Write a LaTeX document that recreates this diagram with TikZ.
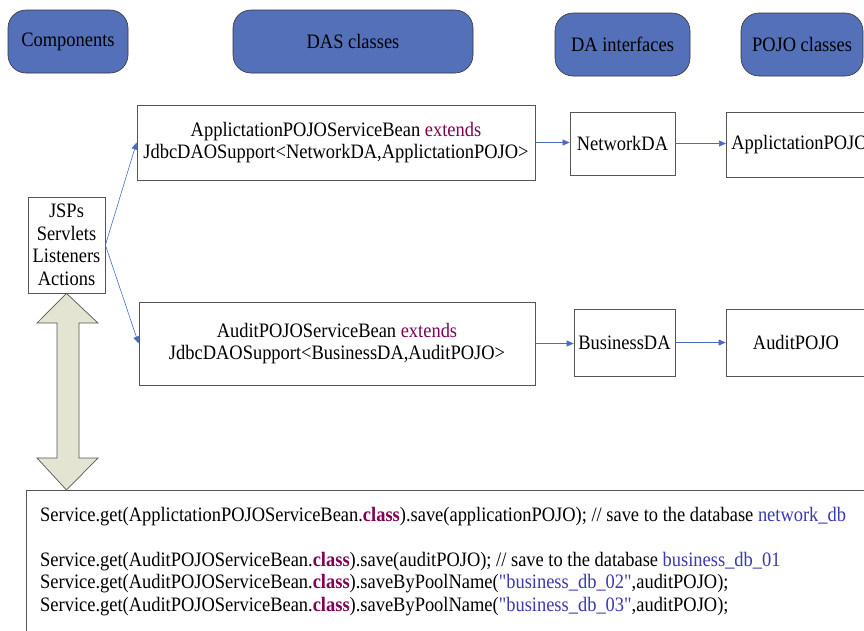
\documentclass[tikz,border=0pt]{standalone}
\usepackage{fontspec}
\setmainfont{Liberation Serif}[FakeStretch=0.9]
\newfontfamily\plainfont{Liberation Serif}[FakeStretch=0.9]
\usetikzlibrary{arrows.meta}
\definecolor{hdrblue}{HTML}{5470B8}
\definecolor{linkblue}{HTML}{4A6CC0}
\definecolor{kwpurple}{HTML}{7F0055}
\definecolor{strblue}{HTML}{3A3AB0}
\definecolor{arrfill}{HTML}{E3E5D2}
\definecolor{edgegray}{HTML}{555555}
\newcommand{\qq}{{\plainfont\symbol{34}}}
\tikzset{
  hdr/.style={draw=black!80, fill=hdrblue, rounded corners=18pt, line width=0.6pt,
    font=\fontsize{20.5}{22.5}\selectfont, inner sep=0pt},
  box/.style={draw=edgegray, line width=0.8pt, fill=white, align=center,
    font=\fontsize{20.5}{22.5}\selectfont, inner sep=0pt},
  conn/.style={draw=linkblue, line width=0.6pt, -{Triangle[length=7pt,width=6pt]}},
}
\begin{document}
\begin{tikzpicture}[x=1pt,y=-1pt]
\useasboundingbox (0,0) rectangle (864,630);
% headers
\node[hdr, minimum width=120pt, minimum height=63pt] (hcomp) at (68,41.5) {Components};
\node[hdr, minimum width=240pt, minimum height=63pt] (hdas) at (353,41.5) {DAS classes};
\node[hdr, minimum width=135pt, minimum height=63pt] (hda) at (622.5,44.5) {DA interfaces};
\node[hdr, minimum width=122pt, minimum height=63pt] (hpojo) at (802,44.5) {POJO classes};
% row 1
\node[box, minimum width=398pt, minimum height=75pt] (appbean) at (336,142.5)
  {ApplictationPOJOServiceBean \textcolor{kwpurple}{extends}\\JdbcDAOSupport<NetworkDA,ApplictationPOJO>};
\node[box, minimum width=105pt, minimum height=63pt] (netda) at (622.5,143.5) {NetworkDA};
\node[box, minimum width=160pt, minimum height=65pt, anchor=west, text width=150pt, align=left, inner xsep=5pt] (apppojo) at (726,144.5) {ApplictationPOJO};
% row 2
\node[box, minimum width=396pt, minimum height=83pt] (auditbean) at (337,343.5)
  {AuditPOJOServiceBean \textcolor{kwpurple}{extends}\\JdbcDAOSupport<BusinessDA,AuditPOJO>};
\node[box, minimum width=101pt, minimum height=67pt] (busda) at (624.5,342.5) {BusinessDA};
\node[box, minimum width=140pt, minimum height=67pt] (auditpojo) at (796,342.5) {AuditPOJO};
% components
\node[box, minimum width=77pt, minimum height=96pt] (jsp) at (66.5,245)
  {JSPs\\Servlets\\Listeners\\Actions};
% code box
\node[box, anchor=north west, minimum width=860pt, minimum height=160pt] (code) at (26,490) {};
\node[anchor=north west, align=left, inner sep=0pt, font=\fontsize{20.5}{22.5}\selectfont] (codetext) at (40,507)
  {Service.get(ApplictationPOJOServiceBean.\textcolor{kwpurple}{\bfseries class}).save(applicationPOJO); // save to the database \textcolor{strblue}{network\_db}\\[22.5pt]
   Service.get(AuditPOJOServiceBean.\textcolor{kwpurple}{\bfseries class}).save(auditPOJO); // save to the database \textcolor{strblue}{business\_db\_01}\\
   Service.get(AuditPOJOServiceBean.\textcolor{kwpurple}{\bfseries class}).saveByPoolName(\textcolor{strblue}{\qq business\_db\_02\qq},auditPOJO);\\
   Service.get(AuditPOJOServiceBean.\textcolor{kwpurple}{\bfseries class}).saveByPoolName(\textcolor{strblue}{\qq business\_db\_03\qq},auditPOJO);};
% double arrow
\draw[draw=edgegray, fill=arrfill, line width=0.7pt]
  (jsp.south) -- (98,323) -- (79,323) -- (79,458) -- (98,458) -- (code.north -| jsp.south)
  -- (37,458) -- (57,458) -- (57,323) -- (37,323) -- cycle;
% connectors
\draw[conn] (jsp.east) -- (appbean.west);
\draw[conn] (jsp.east) -- (auditbean.west);
\draw[conn] (appbean.east) -- (appbean.east -| netda.west);
\draw[conn] (netda.east) -- (netda.east -| apppojo.west);
\draw[conn] (auditbean.east) -- (auditbean.east -| busda.west);
\draw[conn] (busda.east) -- (busda.east -| auditpojo.west);
\end{tikzpicture}
\end{document}
